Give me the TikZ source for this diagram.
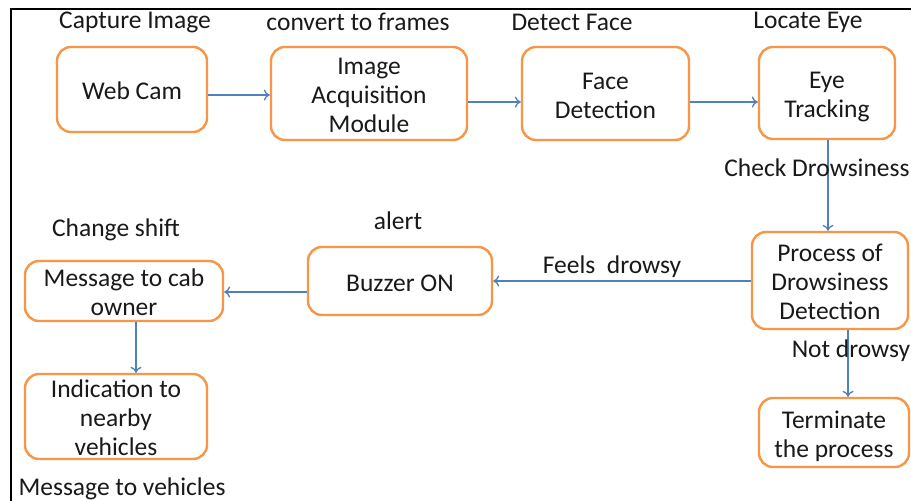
\documentclass[tikz,border=0pt]{standalone}
\usepackage{fontspec}
\setmainfont{Carlito}
\usetikzlibrary{arrows.meta}
\definecolor{boxorange}{RGB}{247,150,70}
\definecolor{linkblue}{RGB}{79,129,189}
\definecolor{inkdark}{RGB}{25,25,25}
% box text: lines set a little below the middle, box size left alone
\newcommand{\stagelines}[1]{\raisebox{-10.5pt}[0pt][0pt]{\begin{tabular}{@{}c@{}}#1\end{tabular}}}
\tikzset{
  stage/.style={draw=boxorange, line width=2.4pt, rounded corners=14pt, fill=white,
    inner sep=0pt, text=inkdark},
  link/.style={draw=linkblue, line width=1.3pt, -{To[length=6pt,width=11pt]}},
  tag/.style={text=inkdark, inner sep=0pt}
}
\begin{document}
\begin{tikzpicture}[x=1pt, y=-1pt, font=\fontsize{25.5}{29}\selectfont]
\useasboundingbox (0,0) rectangle (911,501);
\fill[white] (0,0) rectangle (911,501);
\draw[line width=2pt] (11,520) -- (11,9) -- (930,9);
% top row
\node[stage, minimum width=150pt, minimum height=85pt] (cam) at (132,89.5) {\stagelines{Web Cam}};
\node[stage, minimum width=196pt, minimum height=93pt] (acq) at (369,93.5) {\stagelines{Image\\Acquisition\\Module}};
\node[stage, minimum width=167pt, minimum height=93pt] (face) at (605.5,93.5) {\stagelines{Face\\Detection}};
\node[stage, minimum width=136pt, minimum height=92pt] (eye) at (827,93) {\stagelines{Eye\\Tracking}};
% right column
\node[stage, minimum width=156pt, minimum height=97pt] (proc) at (830,280.5) {\stagelines{Process of\\Drowsiness\\Detection}};
\node[stage, minimum width=150pt, minimum height=69pt] (term) at (834,432.5) {\stagelines{Terminate\\the process}};
% middle and left
\node[stage, minimum width=184pt, minimum height=68pt] (buzz) at (400,281) {\stagelines{Buzzer ON}};
\node[stage, minimum width=198pt, minimum height=60pt] (msg) at (124,291) {\stagelines{Message to cab\\owner}};
\node[stage, minimum width=182pt, minimum height=85pt] (near) at (116,416.5) {\stagelines{Indication to\\nearby\\vehicles}};
% labels
\node[tag] (l1) at (135,22) {Capture Image};
\node[tag] (l2) at (358,22) {convert to frames};
\node[tag] (l3) at (572,22) {Detect Face};
\node[tag] (l4) at (808,22) {Locate Eye};
\node[tag] (l6) at (398,221) {alert};
\node[tag] (l7) at (116,230) {Change shift};
\node[tag] (l8) at (612,267) {Feels\ \ drowsy};
\node[tag] (l10) at (122,489) {Message to vehicles};
% connectors
\path[link] (cam.east |- 0,95) -- (acq.west |- 0,95);
\path[link] (acq.east |- 0,102) -- (face.west |- 0,102);
\path[link] (face.east |- 0,102) -- (eye.west |- 0,102);
\path[link] (eye.south -| 828,0) -- (proc.north -| 828,0);
\path[link] (proc.west |- 0,281) -- (buzz.east |- 0,281);
\path[link] (buzz.west |- 0,292) -- (msg.east |- 0,292);
\path[link] (msg.south -| 136,0) -- (near.north -| 136,0);
\path[link] (proc.south -| 848,0) -- (term.north -| 848,0);
% labels over the vertical links
\node[tag] (l5) at (817,168) {Check Drowsiness};
\node[tag] (l9) at (851,351) {Not drowsy};
\end{tikzpicture}
\end{document}
